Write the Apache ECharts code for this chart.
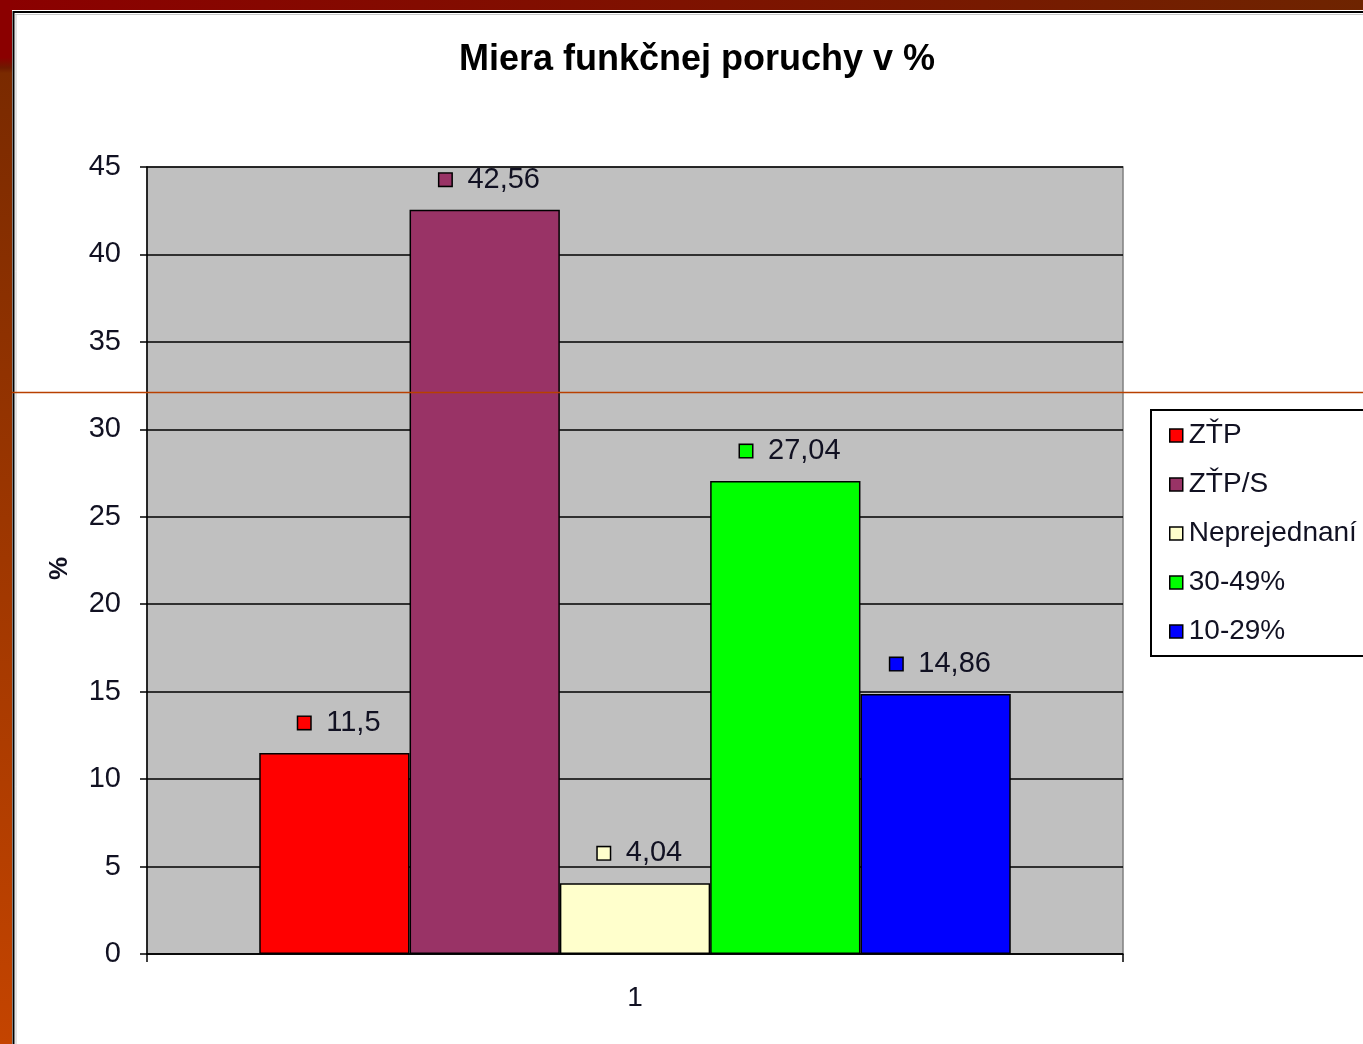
<!DOCTYPE html>
<html>
<head>
<meta charset="utf-8">
<script src="https://cdn.jsdelivr.net/npm/echarts@6/dist/echarts.min.js"></script>
<style>
html,body{margin:0;padding:0;background:#fff;}
#chart{width:1363px;height:1044px;}
</style>
</head>
<body>
<div id="chart"></div>
<script>
// ---- data ----
var titleText = 'Miera funkčnej poruchy v %';
var categories = ['1'];
var seriesNames = ['ZŤP', 'ZŤP/S', 'Neprejednaní', '30-49%', '10-29%'];
var seriesValues = [11.5, 42.56, 4.04, 27.04, 14.86];
var seriesColors = ['#ff0000', '#993366', '#ffffcc', '#00ff00', '#0000ff'];
var yTicks = { min: 0, max: 45, interval: 5 };
var yAxisName = '%';

var FONT = '"Liberation Sans", Arial, sans-serif';
var TXT = '#111122';

var chart = echarts.init(document.getElementById('chart'), null, { renderer: 'canvas' });

var series = seriesNames.map(function (name, i) {
  return {
    name: name,
    type: 'bar',
    barGap: '0%',
    barCategoryGap: '23%',
    data: [seriesValues[i]],
    itemStyle: { color: seriesColors[i], borderColor: '#000', borderWidth: 1.5 },
    label: {
      show: true,
      position: 'top',
      distance: 14,
      offset: [5, 0],
      formatter: function (p) {
        return '{sq|}{t|' + String(p.value).replace('.', ',') + '}';
      },
      rich: {
        sq: { width: 12, height: 12, backgroundColor: seriesColors[i], borderColor: '#000', borderWidth: 1.5 },
        t: { fontSize: 29, fontFamily: FONT, color: TXT, padding: [0, 0, 0, 16], lineHeight: 32 }
      }
    }
  };
});

var option = {
  backgroundColor: '#ffffff',
  animation: false,
  title: {
    text: titleText,
    left: 692,
    textAlign: 'center',
    top: 37,
    textStyle: { fontFamily: FONT, fontWeight: 'bold', fontSize: 36, color: '#000' }
  },
  legend: {
    orient: 'vertical',
    left: 1151,
    top: 410,
    data: seriesNames,
    icon: 'rect',
    itemWidth: 13,
    itemHeight: 13,
    itemGap: 20,
    itemStyle: { borderColor: '#000', borderWidth: 1.5 },
    textStyle: { fontFamily: FONT, fontSize: 28, color: TXT, lineHeight: 29, padding: [0, 0, 0, 1] },
    backgroundColor: '#fff',
    borderColor: '#000',
    borderWidth: 2,
    padding: [11, 60, 10, 18]
  },
  grid: {
    left: 147, top: 167, right: 240, bottom: 90,
    show: true, backgroundColor: '#c0c0c0', borderColor: '#808080', borderWidth: 1.5,
    containLabel: false
  },
  xAxis: {
    type: 'category',
    data: categories,
    axisLine: { lineStyle: { color: '#000', width: 1.5 } },
    axisTick: { show: true, length: 8, lineStyle: { color: '#000', width: 1.5 } },
    axisLabel: { fontFamily: FONT, fontSize: 28, color: TXT, margin: 30 },
    splitLine: { show: false }
  },
  yAxis: {
    type: 'value',
    min: yTicks.min, max: yTicks.max, interval: yTicks.interval,
    name: yAxisName,
    nameLocation: 'middle',
    nameGap: 74,
    nameTextStyle: { fontFamily: FONT, fontWeight: 'bold', fontSize: 26, color: TXT, padding: [0, 16, 0, 0] },
    axisLine: { show: true, lineStyle: { color: '#000', width: 1.5 } },
    axisTick: { show: true, length: 7, lineStyle: { color: '#000', width: 1.5 } },
    axisLabel: { fontFamily: FONT, fontSize: 29, color: TXT, margin: 26 },
    splitLine: { show: true, lineStyle: { color: '#000', width: 1.5 } }
  },
  series: series,
  graphic: [
    { type: 'rect', z: -10, silent: true, shape: { x: 0, y: 0, width: 1363, height: 10 },
      style: { fill: { type: 'linear', x: 0, y: 0, x2: 1, y2: 0, colorStops: [
        { offset: 0, color: '#8b0000' }, { offset: 0.5, color: '#7e1200' }, { offset: 1, color: '#6e2400' }] } } },
    { type: 'rect', z: -10, silent: true, shape: { x: 0, y: 0, width: 12, height: 1044 },
      style: { fill: { type: 'linear', x: 0, y: 0, x2: 0, y2: 1, colorStops: [
        { offset: 0, color: '#8b0000' }, { offset: 0.055, color: '#8b0000' }, { offset: 0.065, color: '#6e1a00' },
        { offset: 0.07, color: '#7a2a00' }, { offset: 1, color: '#c44400' }] } } },
    { type: 'line', z: -5, silent: true, shape: { x1: 13.5, y1: 11, x2: 13.5, y2: 1044 }, style: { stroke: '#000', lineWidth: 2 } },
    { type: 'line', z: -5, silent: true, shape: { x1: 13, y1: 12, x2: 1363, y2: 12 }, style: { stroke: '#000', lineWidth: 2 } },
    { type: 'line', z: -5, silent: true, shape: { x1: 16, y1: 14, x2: 16, y2: 1044 }, style: { stroke: '#c8c8c8', lineWidth: 1 } },
    { type: 'line', z: -5, silent: true, shape: { x1: 15, y1: 14.5, x2: 1363, y2: 14.5 }, style: { stroke: '#c8c8c8', lineWidth: 1 } },
    { type: 'line', z: 100, silent: true, shape: { x1: 12, y1: 392.5, x2: 1363, y2: 392.5 }, style: { stroke: '#b84000', lineWidth: 1.5 } }
  ]
};

chart.setOption(option);
</script>
</body>
</html>
